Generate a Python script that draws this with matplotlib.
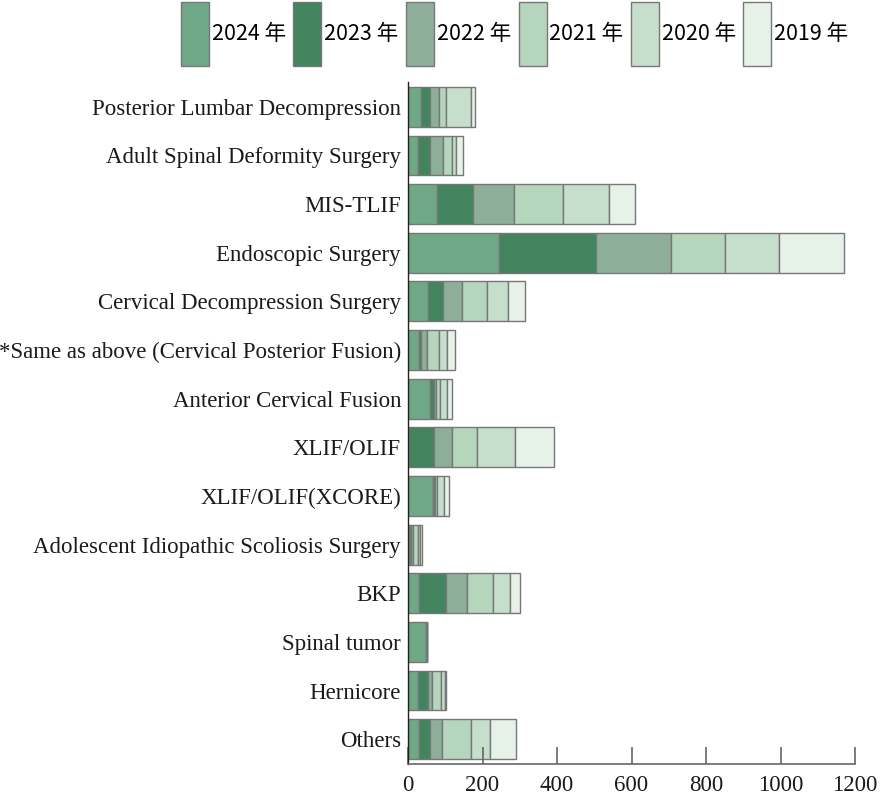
import matplotlib
matplotlib.use("Agg")
import matplotlib.pyplot as plt
import numpy as np

categories = [
    "Posterior Lumbar Decompression",
    "Adult Spinal Deformity Surgery",
    "MIS-TLIF",
    "Endoscopic Surgery",
    "Cervical Decompression Surgery",
    "*Same as above (Cervical Posterior Fusion)",
    "Anterior Cervical Fusion",
    "XLIF/OLIF",
    "XLIF/OLIF(XCORE)",
    "Adolescent Idiopathic Scoliosis Surgery",
    "BKP",
    "Spinal tumor",
    "Hernicore",
    "Others",
]
years = ["2024 年", "2023 年", "2022 年", "2021 年", "2020 年", "2019 年"]
y2024 = [34, 27, 78, 244, 54, 29, 59, 2, 66, 5, 30, 47, 27, 30]
y2023 = [26, 33, 97, 261, 41, 5, 11, 69, 3, 3, 73, 2, 27, 30]
y2022 = [23, 34, 110, 201, 50, 17, 6, 47, 3, 6, 56, 1, 11, 30]
y2021 = [19, 23, 130, 144, 67, 32, 9, 67, 5, 13, 69, 0, 24, 78]
y2020 = [67, 12, 125, 147, 56, 21, 20, 101, 20, 6, 46, 0, 9, 51]
y2019 = [12, 19, 69, 173, 46, 21, 12, 107, 13, 4, 27, 0, 5, 71]
colors = ["#6ea887", "#41845e", "#8daf99", "#b5d5bd", "#c6dfcd", "#e6f1e8"]
x_ticks = [0, 200, 400, 600, 800, 1000, 1200]

series = [y2024, y2023, y2022, y2021, y2020, y2019]

fig = plt.figure(figsize=(8.81, 8.0), dpi=100)
ax = fig.add_axes([408 / 881, 1 - 764 / 800, (855 - 408) / 881, (764 - 82) / 800])

ypos = np.arange(len(categories))
left = np.zeros(len(categories))
handles = []
for vals, col, lab in zip(series, colors, years):
    vals = np.array(vals, dtype=float)
    h = ax.barh(ypos, vals, left=left, height=0.82, color=col,
                edgecolor="#777777", linewidth=1.0, label=lab)
    handles.append(h)
    left += vals

ax.set_ylim(len(categories) - 0.5 + 0.01, -0.51)
ax.set_xlim(0, 1200)
ax.set_yticks(ypos)
ax.set_yticklabels(categories, family="Liberation Serif", fontsize=16.5, color="#1a1a1a")
ax.set_xticks(x_ticks)
ax.set_xticklabels([str(t) for t in x_ticks], family="Liberation Serif", fontsize=16.5, color="#1a1a1a")
ax.tick_params(axis="y", length=0, pad=5)
ax.tick_params(axis="x", direction="in", length=12, width=1.2, color="#666666", pad=8)
for s in ["top", "right"]:
    ax.spines[s].set_visible(False)
ax.spines["left"].set_color("#222222")
ax.spines["left"].set_linewidth(1.0)
ax.spines["bottom"].set_color("#666666")
ax.spines["bottom"].set_linewidth(1.2)

leg = fig.legend(handles=handles, labels=years, loc="upper left",
                 bbox_to_anchor=(181 / 881, 0.997), ncol=6, frameon=False,
                 prop={"family": ["Liberation Sans Narrow", "Noto Sans CJK JP"], "size": 15.5},
                 handlelength=1.3, handleheight=4.2, handletextpad=0.12,
                 columnspacing=0.36, borderpad=0.0, borderaxespad=0.0)

fig.savefig("out.png", dpi=100)
